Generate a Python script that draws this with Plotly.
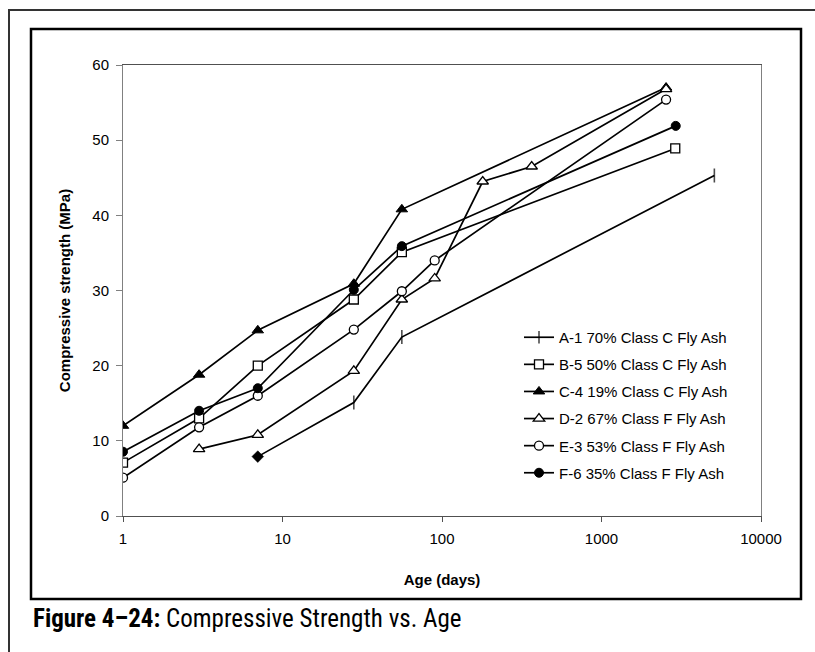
import plotly.graph_objects as go

# ---- data ----
series_names = [
    "A-1 70% Class C Fly Ash",
    "B-5 50% Class C Fly Ash",
    "C-4 19% Class C Fly Ash",
    "D-2 67% Class F Fly Ash",
    "E-3 53% Class F Fly Ash",
    "F-6 35% Class F Fly Ash",
]
ages_A1 = [7, 28, 56, 5100]
strength_A1 = [7.9, 15.1, 23.8, 45.3]
ages_B5 = [1, 3, 7, 28, 56, 2900]
strength_B5 = [7.1, 13.0, 20.0, 28.8, 35.1, 48.9]
ages_C4 = [1, 3, 7, 28, 56, 2540]
strength_C4 = [12.0, 18.8, 24.7, 30.9, 40.8, 57.0]
ages_D2 = [3, 7, 28, 56, 90, 180, 365, 2540]
strength_D2 = [8.9, 10.8, 19.3, 28.8, 31.6, 44.5, 46.5, 56.8]
ages_E3 = [1, 3, 7, 28, 56, 90, 2540]
strength_E3 = [5.1, 11.8, 16.0, 24.8, 29.9, 34.0, 55.4]
ages_F6 = [1, 3, 7, 28, 56, 2920]
strength_F6 = [8.55, 14.0, 17.0, 30.1, 35.9, 51.9]

x_tick_vals = [1, 10, 100, 1000, 10000]
x_tick_text = ["1", "10", "100", "1000", "10000"]
y_tick_vals = [0, 10, 20, 30, 40, 50, 60]

# ---- styling ----
W, H = 815, 652
L, R, T, B = 123, 761, 65, 516  # plot area in pixels

def px_x(px):
    return (px - L) / (R - L)

def px_y(py):
    return (B - py) / (B - T)

styles = [
    dict(symbol="line-ns", size=[6, 10, 10, 10], color="black",
         line=dict(color="black", width=1.6)),
    dict(symbol="square", size=9, color="white", line=dict(color="black", width=1.3)),
    dict(symbol="triangle-up", size=10, color="black", line=dict(color="black", width=1)),
    dict(symbol="triangle-up", size=10, color="white", line=dict(color="black", width=1.3)),
    dict(symbol="circle", size=9, color="white", line=dict(color="black", width=1.3)),
    dict(symbol="circle", size=9, color="black", line=dict(color="black", width=1)),
]

data = [
    (ages_A1, strength_A1),
    (ages_B5, strength_B5),
    (ages_C4, strength_C4),
    (ages_D2, strength_D2),
    (ages_E3, strength_E3),
    (ages_F6, strength_F6),
]

fig = go.Figure()
for i, (name, (xs, ys), mk) in enumerate(zip(series_names, data, styles)):
    fig.add_trace(go.Scatter(
        x=xs, y=ys, name=name, mode="lines+markers",
        line=dict(color="black", width=1.7),
        marker=mk,
        legendgroup=f"g{i}",
    ))

# first A-1 reading is drawn as a small filled diamond in the source chart
fig.add_trace(go.Scatter(
    x=ages_A1[:1], y=strength_A1[:1], mode="markers", showlegend=False,
    legendgroup="g0", hoverinfo="skip",
    marker=dict(symbol="diamond", size=9, color="black",
                line=dict(color="black", width=0.5)),
))

font_main = "Liberation Sans, Arial, sans-serif"
font_narrow = "Roboto Condensed, Liberation Sans Narrow, Arial Narrow, Liberation Sans, sans-serif"

fig.update_layout(
    width=W, height=H,
    margin=dict(l=L, r=W - R, t=T, b=H - B, autoexpand=False),
    paper_bgcolor="white", plot_bgcolor="white",
    font=dict(family=font_main, size=15, color="black"),
    showlegend=True,
    legend=dict(
        x=px_x(519), y=px_y(321), xanchor="left", yanchor="top",
        bgcolor="rgba(0,0,0,0)", borderwidth=0,
        font=dict(size=15, family=font_main, color="black"),
        traceorder="grouped", tracegroupgap=4.6,
        itemwidth=30,
    ),
    xaxis=dict(
        type="log", range=[0, 4],
        tickvals=x_tick_vals, ticktext=x_tick_text,
        showgrid=False, zeroline=False,
        showline=True, linecolor="#505050", linewidth=1, mirror=True,
        ticks="outside", ticklen=5, tickcolor="#505050",
        ticklabelstandoff=4,
        tickfont=dict(size=15),
        title=dict(text="<b>Age (days)</b>", font=dict(size=15), standoff=28),
    ),
    yaxis=dict(
        range=[0, 60], tickvals=y_tick_vals,
        showgrid=False, zeroline=False,
        showline=True, linecolor="#808080", linewidth=1, mirror=True,
        ticks="outside", ticklen=6, tickcolor="#808080",
        ticklabelstandoff=4,
        tickfont=dict(size=15),
        title=dict(text="<b>Compressive strength (MPa)</b>", font=dict(size=15), standoff=18),
    ),
    shapes=[
        # outer page frame
        dict(type="rect", xref="paper", yref="paper",
             x0=px_x(9), x1=px_x(840), y0=px_y(10), y1=px_y(680),
             line=dict(color="#333333", width=2), layer="below"),
        # chart frame
        dict(type="rect", xref="paper", yref="paper",
             x0=px_x(31), x1=px_x(801), y0=px_y(29), y1=px_y(599),
             line=dict(color="black", width=2.5), layer="below"),
    ],
    annotations=[
        dict(xref="paper", yref="paper", x=px_x(31), y=px_y(618),
             xanchor="left", yanchor="middle", showarrow=False,
             text="<b>Figure 4\u201324:</b> Compressive Strength vs. Age",
             font=dict(family=font_narrow, size=25, color="black")),
    ],
)

fig.write_html("out.html")
